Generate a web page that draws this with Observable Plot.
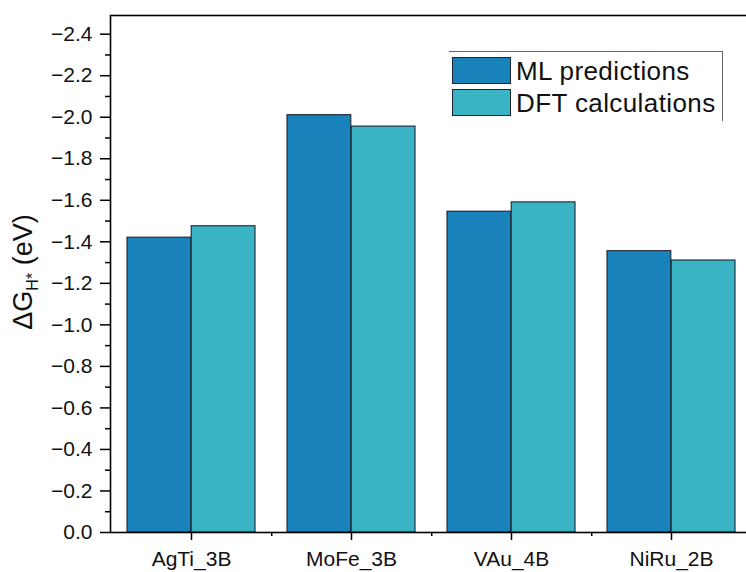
<!DOCTYPE html>
<html>
<head>
<meta charset="utf-8">
<script src="https://cdn.jsdelivr.net/npm/d3@7"></script>
<script src="https://cdn.jsdelivr.net/npm/@observablehq/plot@0.6"></script>
<style>
  html, body { margin: 0; padding: 0; background: #fff; }
  #wrap { position: relative; width: 746px; height: 572px; overflow: hidden; font-family: "Liberation Sans", Arial, sans-serif; }
  #legend { position: absolute; left: 449px; top: 51px; width: 274px; height: 70px;
            border-top: 1.5px solid #666; border-right: 1.5px solid #666; box-sizing: border-box; }
  .row { position: absolute; left: 3px; display: flex; align-items: center; }
  .sw { width: 59px; height: 27px; border: 1.3px solid #1b2430; box-sizing: border-box; }
  .lab { margin-left: 5px; font-size: 26px; letter-spacing: 0.4px; color: #111; line-height: 1; }
</style>
</head>
<body>
<div id="wrap"></div>
<script>
const categories = ["AgTi_3B", "MoFe_3B", "VAu_4B", "NiRu_2B"];
const seriesNames = ["ML predictions", "DFT calculations"];
const mlValues  = [-1.42, -2.01, -1.545, -1.355];
const dftValues = [-1.475, -1.955, -1.59, -1.31];
const seriesColors = ["#1a82bb", "#3ab4c4"];
const yMajorTicks = [0, -0.2, -0.4, -0.6, -0.8, -1.0, -1.2, -1.4, -1.6, -1.8, -2.0, -2.2, -2.4];
const yMinorTicks = [-0.1, -0.3, -0.5, -0.7, -0.9, -1.1, -1.3, -1.5, -1.7, -1.9, -2.1, -2.3];
const yDomain = [0, -2.49];

const W = 746, H = 572;
const mL = 110, mR = -6, mT = 15, mB = 40;
const padInner = 0.2, padOuter = 0.1;
const step = (W - mR - mL) / (categories.length - padInner + 2 * padOuter);
const bw = step * (1 - padInner);

const mlData = categories.map((c, i) => ({cat: c, value: mlValues[i]}));
const dftData = categories.map((c, i) => ({cat: c, value: dftValues[i]}));

const chart = Plot.plot({
  width: W, height: H,
  marginLeft: mL, marginRight: mR, marginTop: mT, marginBottom: mB,
  style: {fontFamily: "'Liberation Sans', Arial, sans-serif", background: "white", color: "#111"},
  x: {domain: categories, range: [mL, W - mR], paddingInner: padInner, paddingOuter: padOuter, label: null},
  y: {domain: yDomain, label: null},
  marks: [
    Plot.barY(mlData, {x: "cat", y1: 0, y2: "value", fill: seriesColors[0], stroke: "#1b2430", strokeWidth: 1.1, insetLeft: 0, insetRight: bw / 2}),
    Plot.barY(dftData, {x: "cat", y1: 0, y2: "value", fill: seriesColors[1], stroke: "#1b2430", strokeWidth: 1.1, insetLeft: bw / 2, insetRight: 0}),
    Plot.frame({stroke: "#000", strokeWidth: 1.6}),
    Plot.axisY({ticks: yMajorTicks, tickFormat: d3.format(".1f"), tickSize: 10, tickPadding: 8, fontSize: 21, label: null, stroke: "#000", strokeWidth: 1.5}),
    Plot.axisY({ticks: yMinorTicks, tickFormat: () => "", tickSize: 5, label: null, stroke: "#000", strokeWidth: 1.5}),
    Plot.axisX({tickSize: 8, tickPadding: 11, fontSize: 21, label: null, stroke: "#000", strokeWidth: 1.5}),
    Plot.axisX({ticks: categories.slice(0, 3), tickFormat: () => "", tickSize: 4, dx: step / 2, label: null, stroke: "#000", strokeWidth: 1.5})
  ]
});

const wrap = document.getElementById("wrap");
wrap.appendChild(chart);

// y-axis title with subscript
const svg = d3.select(chart);
const t = svg.append("text")
  .attr("transform", "translate(32,272) rotate(-90)")
  .attr("text-anchor", "middle")
  .attr("font-size", 27)
  .attr("fill", "#111")
  .attr("font-family", "'Liberation Sans', Arial, sans-serif");
t.append("tspan").text("ΔG");
t.append("tspan").attr("font-size", 16).attr("dy", 6).text("H*");
t.append("tspan").attr("dy", -6).text(" (eV)");

// legend
const legend = document.createElement("div");
legend.id = "legend";
seriesNames.forEach((name, i) => {
  const row = document.createElement("div");
  row.className = "row";
  row.style.top = (5 + i * 32) + "px";
  const sw = document.createElement("div");
  sw.className = "sw";
  sw.style.background = seriesColors[i];
  const lab = document.createElement("span");
  lab.className = "lab";
  lab.textContent = name;
  row.appendChild(sw);
  row.appendChild(lab);
  legend.appendChild(row);
});
wrap.appendChild(legend);
</script>
</body>
</html>
